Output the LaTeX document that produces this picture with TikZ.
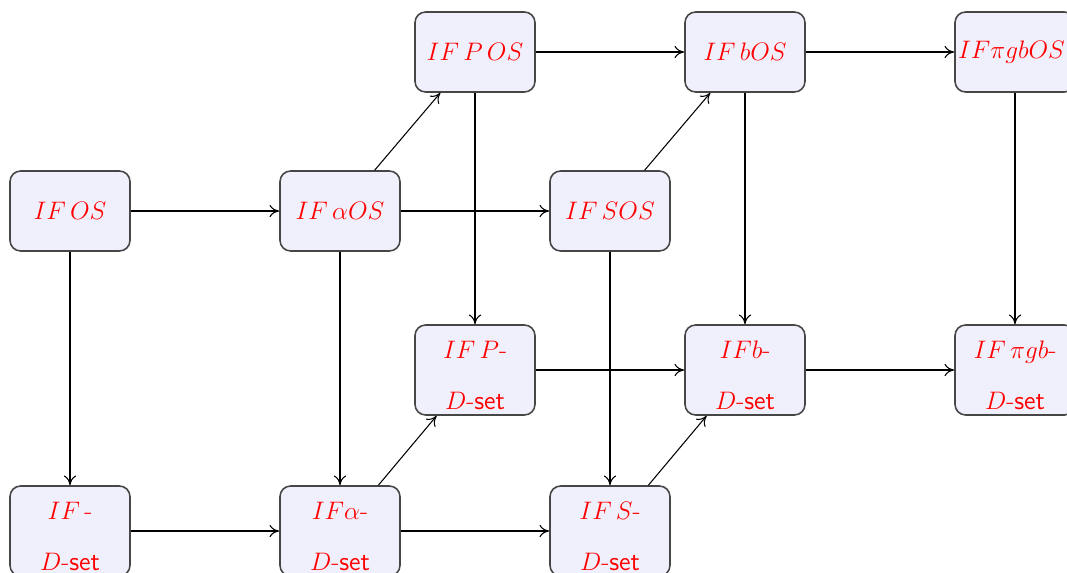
\documentclass[tikz,border=0pt]{standalone}
\usetikzlibrary{arrows.meta}
\definecolor{boxfill}{RGB}{240,240,252}
\definecolor{boxline}{RGB}{70,70,70}
\tikzset{
  box/.style={draw=boxline, line width=0.9pt, fill=boxfill, rounded corners=6pt,
    minimum width=2.4cm, minimum height=1.6cm, inner sep=0pt, text=red,
    font=\fontsize{15}{17}\selectfont, align=center},
  tall/.style={box, minimum height=1.8cm},
  conn/.style={-{To[length=5.5pt,width=7pt]}, line width=0.6pt, black},
}
\newcommand{\dset}{$D$-\textsf{set}}
\newcommand{\tstrut}{\rule{0pt}{16pt}}
\begin{document}
\begin{tikzpicture}[x=0.02cm, y=-0.02cm]
\useasboundingbox (0,0) rectangle (1067,572);
\clip (0,0) rectangle (1067,572);
% top row
\node[box] (pos) at (475,52) {$IF\,P\,OS$};
\node[box] (bos) at (745,52) {$IF\,bOS$};
\node[box] (pgbos) at (1015,52) {$IF\pi gbOS$\hspace{4pt}};
% second row
\node[box] (os) at (70,211) {$IF\,OS$};
\node[box] (aos) at (340,211) {$IF\,\alpha OS$};
\node[box] (sos) at (610,211) {$IF\,SOS$};
% third row
\node[tall] (pd) at (475,370) {\tstrut$IF\,P$-\\[12pt]\dset};
\node[tall] (bd) at (745,370) {\tstrut$IFb$-\\[12pt]\dset};
\node[tall] (pgbd) at (1015,370) {\tstrut$IF\,\pi gb$-\\[12pt]\dset};
% bottom row
\node[tall] (d) at (70,531) {\tstrut$IF$\,-\\[12pt]\dset};
\node[tall] (ad) at (340,531) {\tstrut$IF\alpha$-\\[12pt]\dset};
\node[tall] (sd) at (610,531) {\tstrut$IF\,S$-\\[12pt]\dset};
% connectors
\draw[conn] (os) -- (aos);
\draw[conn] (aos) -- (sos);
\draw[conn] (pos) -- (bos);
\draw[conn] (bos) -- (pgbos);
\draw[conn] (aos) -- (pos);
\draw[conn] (sos) -- (bos);
\draw[conn] (os) -- (d);
\draw[conn] (aos) -- (ad);
\draw[conn] (pos) -- (pd);
\draw[conn] (sos) -- (sd);
\draw[conn] (bos) -- (bd);
\draw[conn] (pgbos) -- (pgbd);
\draw[conn] (pd) -- (bd);
\draw[conn] (bd) -- (pgbd);
\draw[conn] (d) -- (ad);
\draw[conn] (ad) -- (sd);
\draw[conn] (ad) -- (pd);
\draw[conn] (sd) -- (bd);
\end{tikzpicture}
\end{document}
